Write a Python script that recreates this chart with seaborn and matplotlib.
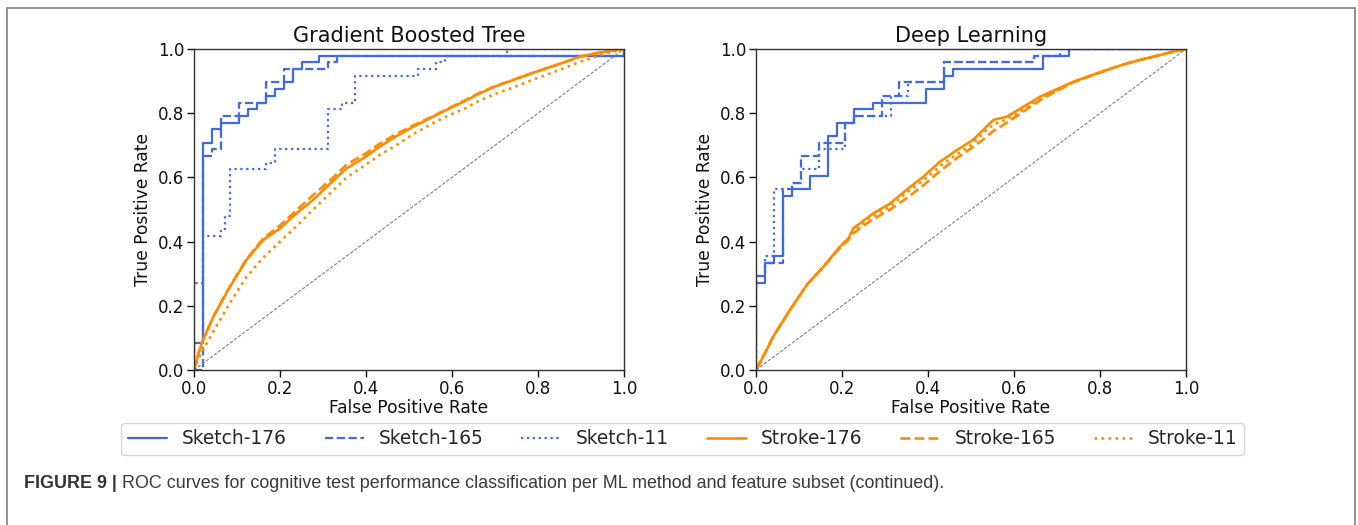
import numpy as np
import pandas as pd
import matplotlib
matplotlib.use("Agg")
import matplotlib.pyplot as plt
import matplotlib.patches as mpatches
import seaborn as sns

# ---------------- data ----------------
titles = ["Gradient Boosted Tree", "Deep Learning"]
series_names = ["Sketch-176", "Sketch-165", "Sketch-11", "Stroke-176", "Stroke-165", "Stroke-11"]
chance = [0.0, 1.0]

# Gradient Boosted Tree
gbt_sketch176_fpr = [0, 0, 0.02, 0.02, 0.041, 0.041, 0.062, 0.062, 0.105, 0.105, 0.126, 0.126, 0.147, 0.147,
                     0.167, 0.167, 0.188, 0.188, 0.209, 0.209, 0.231, 0.231, 0.25, 0.25, 0.291, 0.291, 1.0, 1.0]
gbt_sketch176_tpr = [0, 0.083, 0.083, 0.708, 0.708, 0.75, 0.75, 0.771, 0.771, 0.792, 0.792, 0.813, 0.813, 0.833,
                     0.833, 0.854, 0.854, 0.875, 0.875, 0.896, 0.896, 0.938, 0.938, 0.958, 0.958, 0.979, 0.979, 1.0]
gbt_sketch165_fpr = [0, 0.02, 0.02, 0.041, 0.041, 0.062, 0.062, 0.104, 0.104, 0.167, 0.167, 0.209, 0.209,
                     0.312, 0.312, 0.333, 0.333, 1.0, 1.0]
gbt_sketch165_tpr = [0, 0, 0.667, 0.667, 0.688, 0.688, 0.792, 0.792, 0.833, 0.833, 0.896, 0.896, 0.938,
                     0.938, 0.958, 0.958, 0.979, 0.979, 1.0]
gbt_sketch11_fpr = [0, 0, 0.02, 0.02, 0.062, 0.062, 0.073, 0.073, 0.083, 0.083, 0.167, 0.167, 0.188, 0.188,
                    0.312, 0.312, 0.344, 0.344, 0.375, 0.375, 0.521, 0.521, 0.563, 0.563, 0.583, 0.583,
                    0.729, 0.729, 1.0]
gbt_sketch11_tpr = [0, 0.271, 0.271, 0.417, 0.417, 0.438, 0.438, 0.479, 0.479, 0.625, 0.625, 0.646, 0.646, 0.688,
                    0.688, 0.813, 0.813, 0.833, 0.833, 0.917, 0.917, 0.938, 0.938, 0.958, 0.958, 0.979,
                    0.979, 1.0, 1.0]

gbt_stroke_fpr = [0, 0.01, 0.02, 0.045, 0.084, 0.122, 0.161, 0.2, 0.24, 0.277, 0.32, 0.355, 0.4, 0.432, 0.47,
                  0.51, 0.55, 0.587, 0.63, 0.665, 0.7, 0.742, 0.78, 0.82, 0.86, 0.897, 0.94, 0.97, 1.0]
gbt_stroke176_tpr = [0, 0.05, 0.09, 0.166, 0.26, 0.343, 0.405, 0.441, 0.49, 0.53, 0.585, 0.628, 0.665, 0.696,
                     0.728, 0.758, 0.785, 0.81, 0.838, 0.862, 0.883, 0.903, 0.922, 0.94, 0.958, 0.976, 0.988,
                     0.995, 1.0]
gbt_stroke165_tpr = [0, 0.05, 0.09, 0.166, 0.262, 0.345, 0.41, 0.45, 0.5, 0.545, 0.595, 0.64, 0.675, 0.705,
                     0.735, 0.762, 0.787, 0.812, 0.84, 0.864, 0.884, 0.904, 0.922, 0.94, 0.958, 0.976, 0.988,
                     0.995, 1.0]
gbt_stroke11_tpr = [0, 0.035, 0.06, 0.12, 0.21, 0.29, 0.35, 0.40, 0.45, 0.5, 0.555, 0.6, 0.64, 0.67, 0.7,
                    0.735, 0.765, 0.79, 0.815, 0.84, 0.86, 0.88, 0.9, 0.92, 0.94, 0.96, 0.978, 0.99, 1.0]

# Deep Learning
dl_sketch176_fpr = [0, 0, 0.021, 0.021, 0.042, 0.042, 0.062, 0.062, 0.083, 0.083, 0.125, 0.125, 0.167, 0.167,
                    0.188, 0.188, 0.229, 0.229, 0.271, 0.271, 0.396, 0.396, 0.438, 0.438, 0.458, 0.458,
                    0.667, 0.667, 0.729, 0.729, 1.0]
dl_sketch176_tpr = [0, 0.271, 0.271, 0.333, 0.333, 0.354, 0.354, 0.542, 0.542, 0.563, 0.563, 0.604, 0.604, 0.729,
                    0.729, 0.771, 0.771, 0.813, 0.813, 0.833, 0.833, 0.875, 0.875, 0.917, 0.917, 0.938,
                    0.938, 0.979, 0.979, 1.0, 1.0]
dl_sketch165_fpr = [0, 0, 0.021, 0.021, 0.062, 0.062, 0.083, 0.083, 0.104, 0.104, 0.146, 0.146, 0.208, 0.208,
                    0.229, 0.229, 0.292, 0.292, 0.333, 0.333, 0.438, 0.438, 0.646, 0.646, 0.708, 0.708, 1.0]
dl_sketch165_tpr = [0, 0.292, 0.292, 0.333, 0.333, 0.563, 0.563, 0.583, 0.583, 0.667, 0.667, 0.708, 0.708, 0.771,
                    0.771, 0.792, 0.792, 0.854, 0.854, 0.896, 0.896, 0.958, 0.958, 0.979, 0.979, 1.0, 1.0]
dl_sketch11_fpr = [0, 0, 0.021, 0.021, 0.042, 0.042, 0.083, 0.083, 0.104, 0.104, 0.146, 0.146, 0.208, 0.208,
                   0.229, 0.229, 0.313, 0.313, 0.354, 0.354, 0.438, 0.438, 0.646, 0.646, 0.708, 0.708, 1.0]
dl_sketch11_tpr = [0, 0.292, 0.292, 0.354, 0.354, 0.563, 0.563, 0.583, 0.583, 0.625, 0.625, 0.688, 0.688, 0.771,
                   0.771, 0.792, 0.792, 0.854, 0.854, 0.896, 0.896, 0.958, 0.958, 0.979, 0.979, 1.0, 1.0]

dl_stroke_fpr = [0, 0.02, 0.04, 0.079, 0.118, 0.157, 0.195, 0.215, 0.226, 0.25, 0.273, 0.312, 0.35, 0.389,
                 0.428, 0.467, 0.505, 0.53, 0.552, 0.583, 0.622, 0.66, 0.7, 0.738, 0.78, 0.816, 0.855, 0.893,
                 0.93, 0.965, 1.0]
dl_stroke176_tpr = [0, 0.05, 0.104, 0.187, 0.265, 0.322, 0.384, 0.41, 0.441, 0.465, 0.488, 0.519, 0.561, 0.602,
                    0.649, 0.685, 0.717, 0.75, 0.779, 0.789, 0.82, 0.851, 0.875, 0.898, 0.918, 0.935, 0.952,
                    0.966, 0.978, 0.99, 1.0]
dl_stroke165_tpr = [0, 0.05, 0.104, 0.187, 0.265, 0.322, 0.38, 0.405, 0.425, 0.45, 0.47, 0.5, 0.535, 0.575,
                    0.62, 0.66, 0.695, 0.72, 0.745, 0.77, 0.805, 0.84, 0.87, 0.896, 0.917, 0.934, 0.952,
                    0.966, 0.978, 0.99, 1.0]
dl_stroke11_tpr = [0, 0.05, 0.104, 0.187, 0.265, 0.322, 0.382, 0.408, 0.432, 0.458, 0.48, 0.51, 0.552, 0.59,
                   0.635, 0.672, 0.705, 0.74, 0.765, 0.78, 0.812, 0.846, 0.872, 0.897, 0.918, 0.935, 0.952,
                   0.966, 0.978, 0.99, 1.0]

caption_bold = "FIGURE 9 |"
caption_text = " ROC curves for cognitive test performance classification per ML method and feature subset (continued)."

# ---------------- styling ----------------
sns.set_theme(style="ticks")
plt.rcParams["font.family"] = ["DejaVu Sans"]
plt.rcParams["axes.edgecolor"] = "#333333"
plt.rcParams["axes.linewidth"] = 1.0

BLUE = "#4169E1"
ORANGE = "#FF8C00"
styles = ["-", "--", ":"]

panels = [
    [(gbt_sketch176_fpr, gbt_sketch176_tpr), (gbt_sketch165_fpr, gbt_sketch165_tpr), (gbt_sketch11_fpr, gbt_sketch11_tpr),
     (gbt_stroke_fpr, gbt_stroke176_tpr), (gbt_stroke_fpr, gbt_stroke165_tpr), (gbt_stroke_fpr, gbt_stroke11_tpr)],
    [(dl_sketch176_fpr, dl_sketch176_tpr), (dl_sketch165_fpr, dl_sketch165_tpr), (dl_sketch11_fpr, dl_sketch11_tpr),
     (dl_stroke_fpr, dl_stroke176_tpr), (dl_stroke_fpr, dl_stroke165_tpr), (dl_stroke_fpr, dl_stroke11_tpr)],
]

W, H = 1358, 525
fig = plt.figure(figsize=(W / 100, H / 100), dpi=100)
fig.patch.set_facecolor("white")

# outer frame
frame = mpatches.Rectangle((7 / W, -0.05), (1355 - 7) / W, 1 - 8 / H + 0.05, transform=fig.transFigure,
                           fill=False, edgecolor="#8a8a8a", linewidth=1.3, zorder=0)
fig.patches.append(frame)

axes_left = [194, 756]
for i, (title, curves) in enumerate(zip(titles, panels)):
    ax = fig.add_axes([axes_left[i] / W, 1 - 370 / H, 430 / W, 321 / H])
    for j, (name, (fx, ty)) in enumerate(zip(series_names, curves)):
        color = BLUE if j < 3 else ORANGE
        lw = 1.6 if j < 3 else 1.9
        df = pd.DataFrame({"fpr": fx, "tpr": ty})
        sns.lineplot(data=df, x="fpr", y="tpr", ax=ax, sort=False, estimator=None,
                     color=color, linestyle=styles[j % 3], linewidth=lw, label=name)
    ax.plot(chance, chance, color="gray", linestyle="--", linewidth=0.8, dashes=(3, 1.5))
    ax.set_xlim(0, 1)
    ax.set_ylim(0, 1)
    ax.set_xticks(np.linspace(0, 1, 6))
    ax.set_yticks(np.linspace(0, 1, 6))
    ax.set_xticklabels([f"{v:.1f}" for v in np.linspace(0, 1, 6)])
    ax.set_yticklabels([f"{v:.1f}" for v in np.linspace(0, 1, 6)])
    ax.tick_params(labelsize=12, length=5, width=1, colors="#111111", pad=2)
    ax.set_xlabel("False Positive Rate", fontsize=12.3, labelpad=1, color="#111111")
    ax.set_ylabel("True Positive Rate", fontsize=12.3, labelpad=4, color="#111111")
    ax.set_title(title, fontsize=15, pad=5, color="#111111")
    for s in ax.spines.values():
        s.set_visible(True)
    if i == 0:
        handles, labels = ax.get_legend_handles_labels()
    ax.get_legend().remove()

leg = fig.legend(handles, labels, loc="center", bbox_to_anchor=(0.5026, 1 - 439 / H), ncol=6,
                 fontsize=13.4, handlelength=2.1, handletextpad=0.8, columnspacing=2.05,
                 frameon=True, fancybox=True, borderpad=0.35)
leg.get_frame().set_edgecolor("#cccccc")
leg.get_frame().set_linewidth(1.0)

# caption
t1 = fig.text(24 / W, 1 - 483 / H, caption_bold, fontsize=12.9, fontweight="bold",
              family=["Liberation Sans", "DejaVu Sans"], color="#333333", va="center", ha="left")
fig.canvas.draw()
bb = t1.get_window_extent(renderer=fig.canvas.get_renderer())
fig.text(bb.x1 / W, 1 - 483 / H, caption_text, fontsize=12.9,
         family=["Liberation Sans", "DejaVu Sans"], color="#3a3a3a", va="center", ha="left")

fig.savefig("out.png", dpi=100, facecolor="white")
